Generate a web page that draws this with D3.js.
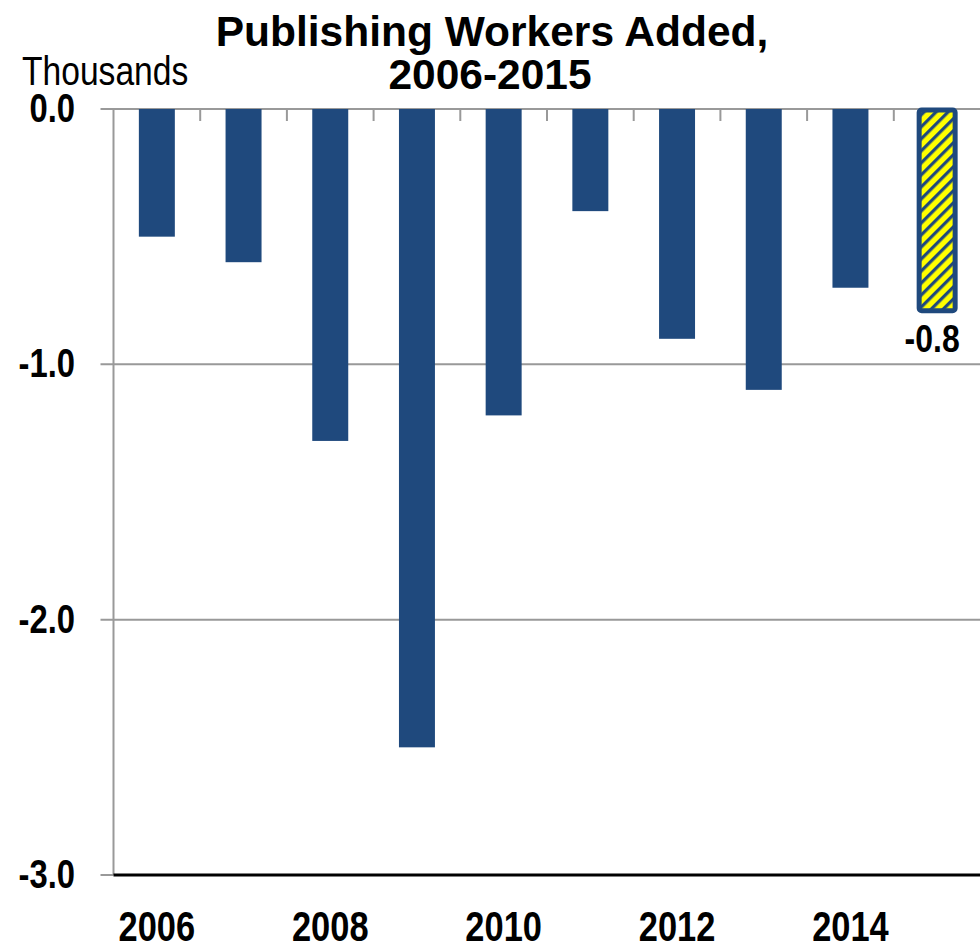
<!DOCTYPE html>
<html>
<head>
<meta charset="utf-8">
<script src="https://cdn.jsdelivr.net/npm/d3@7"></script>
<style>
  html, body { margin: 0; padding: 0; background: #fff; }
  svg { display: block; }
</style>
</head>
<body>
<svg id="chart" width="980" height="945"></svg>
<script>
// Annual change in publishing employment, thousands of workers
const years = ["2006", "2007", "2008", "2009", "2010", "2011", "2012", "2013", "2014", "2015"];
const workersAdded = [-0.5, -0.6, -1.3, -2.5, -1.2, -0.4, -0.9, -1.1, -0.7, -0.8];
const yTicks = [0, -1, -2, -3];
const xTickLabels = ["2006", "2008", "2010", "2012", "2014"];
const highlightYear = "2015";

(function () {
  const svg = d3.select("#chart");
  const FONT = "'Liberation Sans', Arial, sans-serif";
  const CONDENSE = 0.82; // horizontal squeeze for the condensed labels
  const BLUE = "#1F497D";
  const GRID = "#999999";

  const plotLeft = 113.5, plotRight = 980.5, plotTop = 109, plotBottom = 875;

  const x = d3.scaleBand().domain(years).range([plotLeft, plotRight]).paddingInner(0.585).paddingOuter(0.2925);
  const step = x.step();
  const y = d3.scaleLinear().domain([-3, 0]).range([plotBottom, plotTop]);
  const fmt = v => d3.format(".1f")(v).replace("\u2212", "-");

  // condensed text placed at (px, py)
  function narrow(sel, px, py) {
    return sel.attr("transform", d => {
      const xx = typeof px === "function" ? px(d) : px;
      const yy = typeof py === "function" ? py(d) : py;
      return `translate(${xx},${yy}) scale(${CONDENSE},1)`;
    }).style("font-family", FONT).attr("fill", "#000");
  }

  // hatch pattern for the latest year
  const defs = svg.append("defs");
  const pat = defs.append("pattern")
    .attr("id", "hatch")
    .attr("patternUnits", "userSpaceOnUse")
    .attr("width", 8.5).attr("height", 8.5)
    .attr("patternTransform", "rotate(45)");
  pat.append("rect").attr("width", 8.5).attr("height", 8.5).attr("fill", "#FFFF00");
  pat.append("rect").attr("x", 0).attr("width", 3.2).attr("height", 8.5).attr("fill", BLUE);

  // title
  const title = svg.append("text")
    .attr("text-anchor", "middle")
    .style("font-family", FONT).style("font-weight", "bold").style("font-size", "42.5px")
    .attr("fill", "#000");
  title.append("tspan").attr("x", 492).attr("y", 46).text("Publishing Workers Added,");
  title.append("tspan").attr("x", 490).attr("y", 89).text("2006-2015");

  narrow(svg.append("text"), 22, 85)
    .style("font-size", "41px")
    .text("Thousands");

  // horizontal gridlines (the bottom one is drawn as the black baseline)
  svg.append("g").selectAll("line")
    .data(yTicks.filter(d => d !== -3))
    .join("line")
    .attr("x1", plotLeft - 13).attr("x2", plotRight)
    .attr("y1", d => y(d)).attr("y2", d => y(d))
    .attr("stroke", GRID).attr("stroke-width", 2);

  // left tick at the baseline
  svg.append("line")
    .attr("x1", plotLeft - 13).attr("x2", plotLeft)
    .attr("y1", y(-3)).attr("y2", y(-3))
    .attr("stroke", GRID).attr("stroke-width", 2);

  // category separators hanging from the zero line
  const seps = d3.range(1, years.length).map(i => plotLeft + i * step);
  svg.append("g").selectAll("line")
    .data(seps)
    .join("line")
    .attr("x1", d => d).attr("x2", d => d)
    .attr("y1", y(0)).attr("y2", y(0) + 12)
    .attr("stroke", GRID).attr("stroke-width", 2);

  // vertical axis line
  svg.append("line")
    .attr("x1", plotLeft).attr("x2", plotLeft)
    .attr("y1", y(0)).attr("y2", y(-3))
    .attr("stroke", GRID).attr("stroke-width", 2);

  // bars
  const data = years.map((yr, i) => ({ year: yr, value: workersAdded[i] }));
  svg.append("g").selectAll("rect")
    .data(data.filter(d => d.year !== highlightYear))
    .join("rect")
    .attr("x", d => x(d.year))
    .attr("width", x.bandwidth())
    .attr("y", y(0))
    .attr("height", d => y(d.value) - y(0))
    .attr("fill", BLUE);

  const hl = data.find(d => d.year === highlightYear);
  svg.append("rect")
    .attr("x", x(hl.year))
    .attr("width", x.bandwidth())
    .attr("y", y(0) + 1)
    .attr("height", y(hl.value) - y(0) - 3.5)
    .attr("rx", 2.5)
    .attr("fill", "url(#hatch)")
    .attr("stroke", BLUE)
    .attr("stroke-width", 5);

  // value label for the latest year
  narrow(svg.append("text"), x(hl.year) + x.bandwidth() / 2 - 5, y(hl.value) + 39)
    .attr("text-anchor", "middle")
    .style("font-weight", "bold").style("font-size", "39px")
    .text(fmt(hl.value));

  // baseline
  svg.append("line")
    .attr("x1", plotLeft).attr("x2", plotRight)
    .attr("y1", y(-3)).attr("y2", y(-3))
    .attr("stroke", "#000").attr("stroke-width", 3);

  // y-axis labels
  narrow(svg.append("g").selectAll("text").data(yTicks).join("text"), 75, d => y(d) + 13)
    .attr("text-anchor", "end")
    .style("font-weight", "bold").style("font-size", "40px")
    .text(d => fmt(d));

  // x-axis labels
  narrow(svg.append("g").selectAll("text").data(xTickLabels).join("text"),
         d => x(d) + x.bandwidth() / 2, 941)
    .attr("text-anchor", "middle")
    .style("font-weight", "bold").style("font-size", "42px")
    .text(d => d);
})();
</script>
</body>
</html>
